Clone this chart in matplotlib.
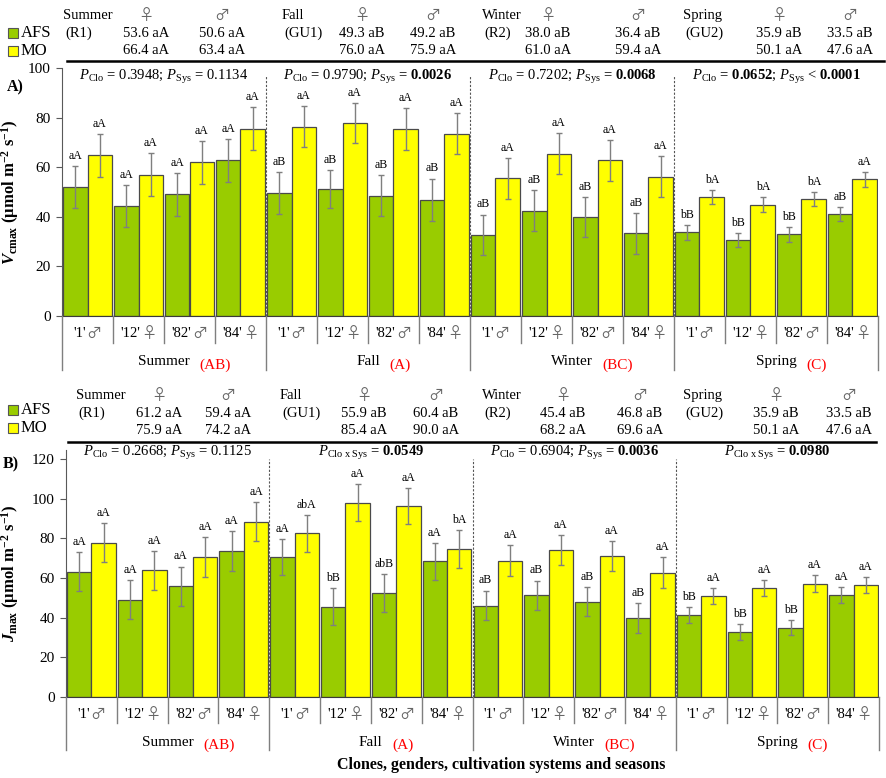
import matplotlib
matplotlib.use('Agg')
import matplotlib.pyplot as plt
import matplotlib.transforms as mtransforms
import numpy as np

W, H = 886, 778
plt.rcParams['font.family'] = ['Liberation Serif', 'DejaVu Sans']
plt.rcParams['mathtext.fontset'] = 'custom'
plt.rcParams['mathtext.rm'] = 'Liberation Serif'
plt.rcParams['mathtext.it'] = 'Liberation Serif:italic'
plt.rcParams['mathtext.bf'] = 'Liberation Serif:bold'
plt.rcParams['mathtext.bfit'] = 'Liberation Serif:italic:bold'

# ---------------- data ----------------
seasons = ['Summer', 'Fall', 'Winter', 'Spring']
season_letters = ['(AB)', '(A)', '(BC)', '(C)']
phases = ['(R1)', '(GU1)', '(R2)', '(GU2)']
clone_names = ["'1'", "'12'", "'82'", "'84'"]
clone_genders = ['♂', '♀', '♂', '♀']
systems = ['AFS', 'MO']

vcmax_afs = [52.0, 44.2, 49.1, 62.8, 49.5, 51.2, 48.5, 46.9,
             32.7, 42.5, 39.9, 33.3, 33.7, 30.8, 32.9, 41.0]
vcmax_afs_err = [8.6, 8.5, 8.6, 8.6, 8.4, 7.8, 8.2, 8.5,
                 8.2, 8.2, 8.2, 8.1, 2.9, 2.8, 3.0, 2.8]
vcmax_mo = [64.8, 56.9, 62.0, 75.5, 76.3, 77.8, 75.3, 73.5,
            55.5, 65.5, 62.8, 56.2, 47.9, 44.9, 47.2, 55.1]
vcmax_mo_err = [8.6, 8.7, 8.6, 8.6, 8.3, 8.2, 8.4, 8.2,
                8.2, 8.2, 8.2, 8.2, 2.9, 3.0, 2.9, 3.0]
vcmax_afs_let = ['aA'] * 4 + ['aB'] * 4 + ['aB'] * 4 + ['bB', 'bB', 'bB', 'aB']
vcmax_mo_let = ['aA'] * 4 + ['aA'] * 4 + ['aA'] * 4 + ['bA', 'bA', 'bA', 'aA']

jmax_afs = [63.1, 49.0, 55.9, 73.6, 70.4, 45.6, 52.5, 68.3,
            46.1, 51.2, 48.0, 39.9, 41.2, 32.7, 35.0, 51.5]
jmax_afs_err = [9.8, 9.9, 9.8, 9.9, 9.0, 9.3, 9.6, 9.3,
                7.5, 7.5, 7.4, 7.6, 4.1, 4.0, 3.9, 3.9]
jmax_mo = [77.8, 63.8, 70.6, 88.4, 82.5, 98.0, 96.3, 74.6,
           68.8, 74.1, 70.9, 62.6, 50.8, 54.9, 57.2, 56.4]
jmax_mo_err = [9.9, 9.8, 9.9, 9.9, 9.3, 9.4, 9.1, 9.4,
               7.6, 7.6, 7.5, 7.8, 3.9, 4.0, 4.1, 4.1]
jmax_afs_let = ['aA'] * 4 + ['aA', 'bB', 'abB', 'aA'] + ['aB'] * 4 + ['bB', 'bB', 'bB', 'aA']
jmax_mo_let = ['aA'] * 4 + ['abA', 'aA', 'aA', 'bA'] + ['aA'] * 4 + ['aA'] * 4

# header tables (season means by gender)
vc_head_afs_f = [53.6, 49.3, 38.0, 35.9]
vc_head_afs_f_let = ['aA', 'aB', 'aB', 'aB']
vc_head_afs_m = [50.6, 49.2, 36.4, 33.5]
vc_head_afs_m_let = ['aA', 'aB', 'aB', 'aB']
vc_head_mo_f = [66.4, 76.0, 61.0, 50.1]
vc_head_mo_m = [63.4, 75.9, 59.4, 47.6]
vc_head_mo_let = ['aA', 'aA', 'aA', 'aA']

j_head_afs_f = [61.2, 55.9, 45.4, 35.9]
j_head_afs_f_let = ['aA', 'aB', 'aB', 'aB']
j_head_afs_m = [59.4, 60.4, 46.8, 33.5]
j_head_afs_m_let = ['aA', 'aB', 'aB', 'aB']
j_head_mo_f = [75.9, 85.4, 68.2, 50.1]
j_head_mo_m = [74.2, 90.0, 69.6, 47.6]
j_head_mo_let = ['aA', 'aA', 'aA', 'aA']

vc_p = [r'$\mathit{P}_{\mathrm{Clo}}$ = 0.3948; $\mathit{P}_{\mathrm{Sys}}$ = 0.1134',
        r'$\mathit{P}_{\mathrm{Clo}}$ = 0.9790; $\mathit{P}_{\mathrm{Sys}}$ = $\mathbf{0.0026}$',
        r'$\mathit{P}_{\mathrm{Clo}}$ = 0.7202; $\mathit{P}_{\mathrm{Sys}}$ = $\mathbf{0.0068}$',
        r'$\mathit{P}_{\mathrm{Clo}}$ = $\mathbf{0.0652}$; $\mathit{P}_{\mathrm{Sys}}$ < $\mathbf{0.0001}$']
j_p = [r'$\mathit{P}_{\mathrm{Clo}}$ = 0.2668; $\mathit{P}_{\mathrm{Sys}}$ = 0.1125',
       r'$\mathit{P}_{\mathrm{Clo\ x\ Sys}}$ = $\mathbf{0.0549}$',
       r'$\mathit{P}_{\mathrm{Clo}}$ = 0.6904; $\mathit{P}_{\mathrm{Sys}}$ = $\mathbf{0.0036}$',
       r'$\mathit{P}_{\mathrm{Clo\ x\ Sys}}$ = $\mathbf{0.0980}$']

GREEN = '#99CC00'
YELLOW = '#FFFF00'
EDGE = '#4a4a4a'
GRAY = '#7f7f7f'
SYMC = '#666666'
SYMFONT = ['Noto Sans CJK JP', 'DejaVu Sans']

fig = plt.figure(figsize=(W / 100, H / 100), dpi=100)
renderer = fig.canvas.get_renderer()


def px_axes(x0, y0, x1, y1):
    a = fig.add_axes([x0 / W, 1 - y1 / H, (x1 - x0) / W, (y1 - y0) / H])
    return a


# overlay in pixel coordinates
ov = px_axes(0, 0, W, H)
ov.set_xlim(0, W)
ov.set_ylim(H, 0)
ov.axis('off')
ov.patch.set_visible(False)


def header(rows_y, line_y, line_x, name_x, fem_x, mal_x, afs_f, afs_f_l, afs_m, afs_m_l,
           mo_f, mo_m, mo_l, leg_y):
    fs = 10.5
    for i in range(4):
        ov.text(name_x[i], rows_y[0], seasons[i], ha='left', va='center', fontsize=fs)
        ov.text(name_x[i] + 2, rows_y[1], phases[i], ha='left', va='center', fontsize=fs)
        ov.text(fem_x[i], rows_y[0], '♀', ha='center', va='center', fontsize=11,
                family=SYMFONT, color=SYMC)
        ov.text(mal_x[i], rows_y[0], '♂', ha='center', va='center', fontsize=11,
                family=SYMFONT, color=SYMC)
        ov.text(fem_x[i], rows_y[1], f'{afs_f[i]:.1f} {afs_f_l[i]}', ha='center', va='center', fontsize=fs)
        ov.text(mal_x[i], rows_y[1], f'{afs_m[i]:.1f} {afs_m_l[i]}', ha='center', va='center', fontsize=fs)
        ov.text(fem_x[i], rows_y[2], f'{mo_f[i]:.1f} {mo_l[i]}', ha='center', va='center', fontsize=fs)
        ov.text(mal_x[i], rows_y[2], f'{mo_m[i]:.1f} {mo_l[i]}', ha='center', va='center', fontsize=fs)
    ov.plot(line_x, [line_y, line_y], color='black', lw=1.8)
    for yy, col, lab in zip(leg_y, [GREEN, YELLOW], systems):
        ov.add_patch(plt.Rectangle((8, yy - 5), 10, 10, facecolor=col, edgecolor='#555555', lw=0.8))
        ov.text(21, yy, lab, ha='left', va='center', fontsize=12)


header([15, 33, 50], 61, [67, 884], [63, 282, 482, 683], [146, 362, 548, 779],
       [222, 433, 638, 850], vc_head_afs_f, vc_head_afs_f_let, vc_head_afs_m,
       vc_head_afs_m_let, vc_head_mo_f, vc_head_mo_m, vc_head_mo_let, [33, 51])
header([395, 413, 430], 442, [68, 876], [76, 280, 482, 683], [159, 364, 563, 776],
       [228, 436, 640, 849], j_head_afs_f, j_head_afs_f_let, j_head_afs_m,
       j_head_afs_m_let, j_head_mo_f, j_head_mo_m, j_head_mo_let, [410, 428])

ov.text(7, 87, 'A)', ha='left', va='center', fontsize=11.5, fontweight='bold')
ov.text(3, 464, 'B)', ha='left', va='center', fontsize=11.5, fontweight='bold')
ov.text(501, 765, 'Clones, genders, cultivation systems and seasons', ha='center',
        va='center', fontsize=11.5, fontweight='bold')


def panel(box, cat_box, ylim, yticks, dash_top, p_y, afs, afs_e, mo, mo_e, afs_l, mo_l,
          ptexts, ylabel):
    ax = px_axes(*box)
    x = np.arange(16)
    ax.bar(x - 0.24, afs, 0.48, color=GREEN, edgecolor=EDGE, lw=0.9, zorder=2)
    ax.bar(x + 0.24, mo, 0.48, color=YELLOW, edgecolor=EDGE, lw=0.9, zorder=2)
    ax.errorbar(x - 0.24, afs, yerr=afs_e, fmt='none', ecolor=GRAY, elinewidth=1,
                capsize=2.5, capthick=1, zorder=3)
    ax.errorbar(x + 0.24, mo, yerr=mo_e, fmt='none', ecolor=GRAY, elinewidth=1,
                capsize=2.5, capthick=1, zorder=3)
    for xi, v, e, l in zip(x - 0.24, afs, afs_e, afs_l):
        ax.annotate(l, (xi, v + e), xytext=(0, 3), textcoords='offset points',
                    ha='center', va='bottom', fontsize=8.5)
    for xi, v, e, l in zip(x + 0.24, mo, mo_e, mo_l):
        ax.annotate(l, (xi, v + e), xytext=(0, 3), textcoords='offset points',
                    ha='center', va='bottom', fontsize=8.5)
    for b in [3.5, 7.5, 11.5]:
        ax.plot([b, b], [0, dash_top], color='#555555', lw=0.8, ls=(0, (2, 1.5)),
                zorder=4, clip_on=False)
    for i in range(4):
        ax.text(4 * i + 1.5, p_y, ptexts[i], ha='center', va='center', fontsize=10.5,
                clip_on=False)
    ax.set_xlim(-0.5, 15.5)
    ax.set_ylim(*ylim)
    ax.set_yticks(yticks)
    ax.set_xticks([])
    ax.spines['top'].set_visible(False)
    ax.spines['right'].set_visible(False)
    ax.spines['left'].set_color('#595959')
    ax.spines['bottom'].set_color('#3a3a3a')
    ax.tick_params(axis='y', direction='out', length=4, color='#595959', labelsize=11,
                   pad=4)
    ax.patch.set_visible(False)
    ax.set_ylabel(ylabel, fontsize=12, fontweight='bold')
    ax.yaxis.set_label_coords((21 - box[0]) / (box[2] - box[0]), 0.5)

    # category area
    ca = px_axes(*cat_box)
    ca.set_xlim(-0.5, 15.5)
    y0, y1 = cat_box[1], cat_box[3]
    ca.set_ylim(y1, y0)
    ca.axis('off')
    ca.patch.set_visible(False)
    short_end = y0 + 0.48 * (y1 - y0)
    for b in np.arange(-0.5, 16, 1.0):
        if b in (-0.5, 3.5, 7.5, 11.5, 15.5):
            ca.plot([b, b], [y0, y1 - 2], color=GRAY, lw=1.0, clip_on=False)
        else:
            ca.plot([b, b], [y0, short_end], color=GRAY, lw=1.0, clip_on=False)
    yl = y0 + 0.31 * (y1 - y0)
    gap = 1
    for i in range(16):
        tn = ca.text(i, yl, clone_names[i % 4], ha='left', va='center', fontsize=10.5)
        ts = ca.text(i, yl, clone_genders[i % 4], ha='left', va='center',
                     fontsize=11, family=SYMFONT, color=SYMC)
        wn = tn.get_window_extent(renderer).width
        ws = ts.get_window_extent(renderer).width
        tot = wn + gap + ws
        tn.set_transform(mtransforms.offset_copy(ca.transData, fig=fig, x=-tot / 2,
                                                 y=0, units='dots'))
        ts.set_transform(mtransforms.offset_copy(ca.transData, fig=fig,
                                                 x=-tot / 2 + wn + gap, y=0, units='dots'))
    for s in range(4):
        t = ca.text(4 * s + 1.5, y0 + 0.82 * (y1 - y0), seasons[s], ha='center',
                    va='center', fontsize=11)
        ca.annotate(season_letters[s], xy=(1, 0), xycoords=t, xytext=(7, -2.5),
                    textcoords='offset points', ha='left', va='bottom', fontsize=11,
                    color='#FF0000')
    return ax


panel((62, 68, 878, 316), (62, 316, 878, 372), (0, 100), range(0, 101, 20), 97, 96.5,
      vcmax_afs, vcmax_afs_err, vcmax_mo, vcmax_mo_err, vcmax_afs_let, vcmax_mo_let, vc_p,
      r'$\mathbfit{V}_{\mathbf{cmax}}$ (µmol m$^{\mathbf{-2}}$ s$^{\mathbf{-1}}$)')
panel((66, 450, 879, 697), (66, 697, 879, 752), (0, 124.5), range(0, 121, 20), 120, 123,
      jmax_afs, jmax_afs_err, jmax_mo, jmax_mo_err, jmax_afs_let, jmax_mo_let, j_p,
      r'$\mathbfit{J}_{\mathbf{max}}$ (µmol m$^{\mathbf{-2}}$ s$^{\mathbf{-1}}$)')

fig.savefig('out.png', dpi=100)
